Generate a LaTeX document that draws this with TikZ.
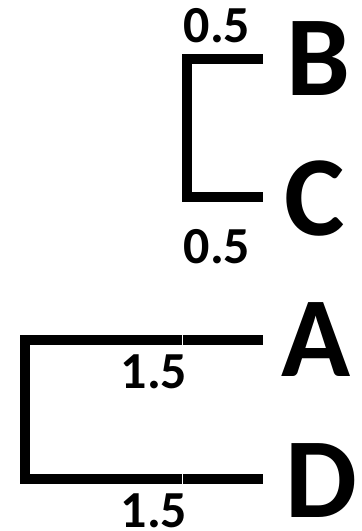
\documentclass[tikz,border=0pt]{standalone}
\usepackage{fontspec}
\setmainfont{Carlito}
\begin{document}
\begin{tikzpicture}[x=1pt,y=-1pt,
  branch/.style={line width=10pt,line join=miter,line cap=butt},
  leaf/.style={font=\fontsize{114}{114}\selectfont\bfseries,anchor=base west,inner sep=0pt,text depth=0pt},
  blen/.style={font=\fontsize{52}{52}\selectfont\bfseries,anchor=base,inner sep=0pt,text depth=0pt}]
  \useasboundingbox (0,0) rectangle (362,531);
  % tips
  \coordinate (tB) at (263,59);
  \coordinate (tC) at (263,197);
  \coordinate (tA) at (263,340);
  \coordinate (tD) at (263,479);
  \coordinate (mA1) at (181.5,340);
  \coordinate (mA2) at (182.5,340);
  \coordinate (mD1) at (181.5,479);
  \coordinate (mD2) at (182.5,479);
  \coordinate (rBC1) at (187,59);
  \coordinate (rBC2) at (187,197);
  \coordinate (rAD1) at (25,340);
  \coordinate (rAD2) at (25,479);
  % leaf labels
  \node[leaf] (B) at (286,95) {B};
  \node[leaf] (C) at (284,235) {C};
  \node[leaf] (A) at (281,376) {A};
  \node[leaf] (D) at (285,517) {D};
  % branch lengths
  \node[blen] (l1) at (217,42) {0.5};
  \node[blen] (l2) at (217,263) {0.5};
  \node[blen] (l3) at (154,388) {1.5};
  \node[blen] (l4) at (154,527) {1.5};
  % clade B,C
  \draw[branch] (tB) -- (rBC1) -- (rBC2) -- (tC);
  % clade A,D
  \draw[branch] (mA1) -- (rAD1) -- (rAD2) -- (mD1);
  \draw[branch] (mA2) -- (tA);
  \draw[branch] (mD2) -- (tD);
\end{tikzpicture}
\end{document}
